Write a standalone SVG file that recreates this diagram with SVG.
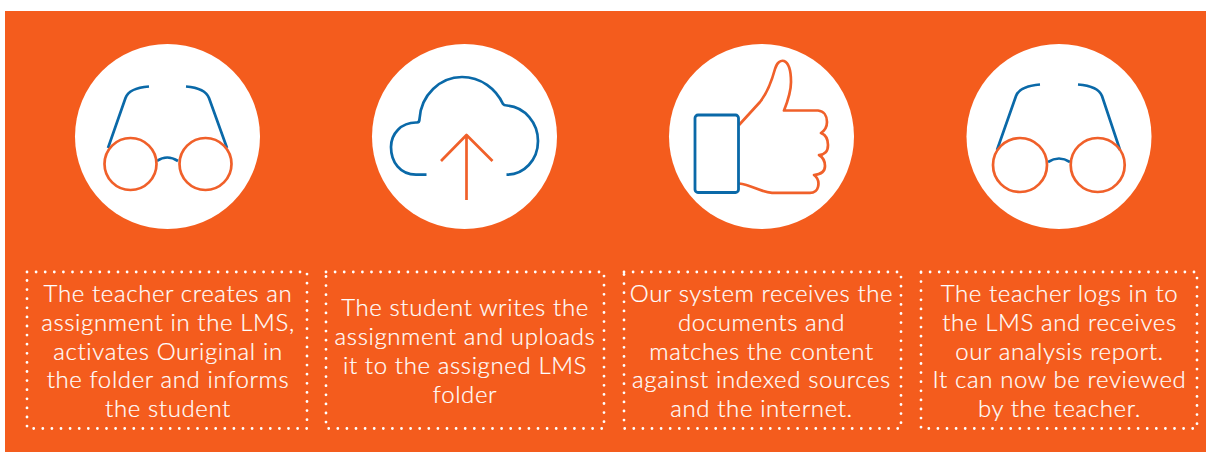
<svg xmlns="http://www.w3.org/2000/svg" width="1206" height="452" viewBox="0 0 1206 452">
<style>
.bg{fill:#f45c1d}
.c{fill:#fff}
.b{fill:none;stroke:#0a69a8;stroke-width:2.7;stroke-linejoin:round}
.o{fill:none;stroke:#f0602a;stroke-width:2.7;stroke-linejoin:round}
.d{fill:none;stroke:#fff;stroke-width:2.8;stroke-linecap:round;stroke-dasharray:0 9.1}
text{font-family:Lato,"Open Sans",sans-serif;font-weight:300;font-size:24px;letter-spacing:.62px;stroke:#fff;stroke-width:.2;fill:#fff;text-anchor:middle}
</style>
<rect x="5" y="11" width="1201" height="441" class="bg"/>
<g id="step1">
<circle cx="167.500" cy="136.500" r="92.500" class="c"/>
<path class="b" d="M108,148L125.500,98Q129,88 149,86.500M227,148L209,98Q205,88 186,86.500M157,161Q167,154 178,161"/>
<circle cx="130.500" cy="164" r="26" class="o"/><circle cx="205.500" cy="164" r="26" class="o"/>
<rect x="27" y="272" width="280" height="156.500" class="d"/>
<text x="168" y="302">The teacher creates an</text>
<text x="168" y="331">assignment in the LMS,</text>
<text x="168" y="359.500">activates Ouriginal in</text>
<text x="168" y="388">the folder and informs</text>
<text x="168" y="416.500">the student</text>
</g>
<g id="step2">
<circle cx="464.500" cy="136.500" r="92.500" class="c"/>
<path class="b" d="M426.500,174.700H416C400,174.700 391,162 391,147C391,134 401,122 417,122.500Q419.500,122.500 419.500,119C421,95 440,77 462,77C481,77 496,89 503,104Q504,105.500 507,105.500C525,107 538,123 538,141C538,160 524,174.700 506.500,174.700"/>
<path class="o" d="M441,161L466.500,135L492.500,161M466.500,135V200"/>
<rect x="326" y="272" width="278" height="156.500" class="d"/>
<text x="465" y="316">The student writes the</text>
<text x="465" y="345">assignment and uploads</text>
<text x="465" y="374">it to the assigned LMS</text>
<text x="465" y="403">folder</text>
</g>
<g id="step3">
<circle cx="761.500" cy="136.500" r="92.500" class="c"/>
<path class="o" d="M739,125L760,102C768,92 772,80 775,69C777,62 781,60 784,61C789,63 791,72 791,82C791,93 787,103 784,110.500H818C824,111 827,116 827,122C827,128 824,131 821,133C826,135 828,140 828,145C828,152 824,155 819,155C824,158 825,163 825,166C825,172 820,174.500 814,175C818,178 819,183 818,187C817,191 814,192.800 810,192.800H772C760,192 752,185 739,183.500"/>
<rect x="695" y="115" width="43.500" height="77.500" rx="3" class="b" style="stroke-width:2.800"/>
<rect x="624" y="272" width="277" height="156.500" class="d"/>
<text x="761.500" y="302">Our system receives the</text>
<text x="761.500" y="331">documents and</text>
<text x="761.500" y="359.500">matches the content</text>
<text x="761.500" y="388">against indexed sources</text>
<text x="761.500" y="416.500">and the internet.</text>
</g>
<g id="step4">
<circle cx="1059" cy="136.500" r="92.500" class="c"/>
<path class="b" d="M997,150L1016,96Q1020,86 1040,84.500M1120,150L1102,96Q1098,86 1078,84.500M1048,162Q1059,155 1070,162"/>
<circle cx="1020" cy="165" r="27" class="o"/><circle cx="1097.700" cy="165" r="27" class="o"/>
<rect x="921" y="272" width="276" height="156.500" class="d"/>
<text x="1059.500" y="302">The teacher logs in to</text>
<text x="1059.500" y="331">the LMS and receives</text>
<text x="1059.500" y="359.500">our analysis report.</text>
<text x="1059.500" y="388">It can now be reviewed</text>
<text x="1059.500" y="416.500">by the teacher.</text>
</g>
</svg>
